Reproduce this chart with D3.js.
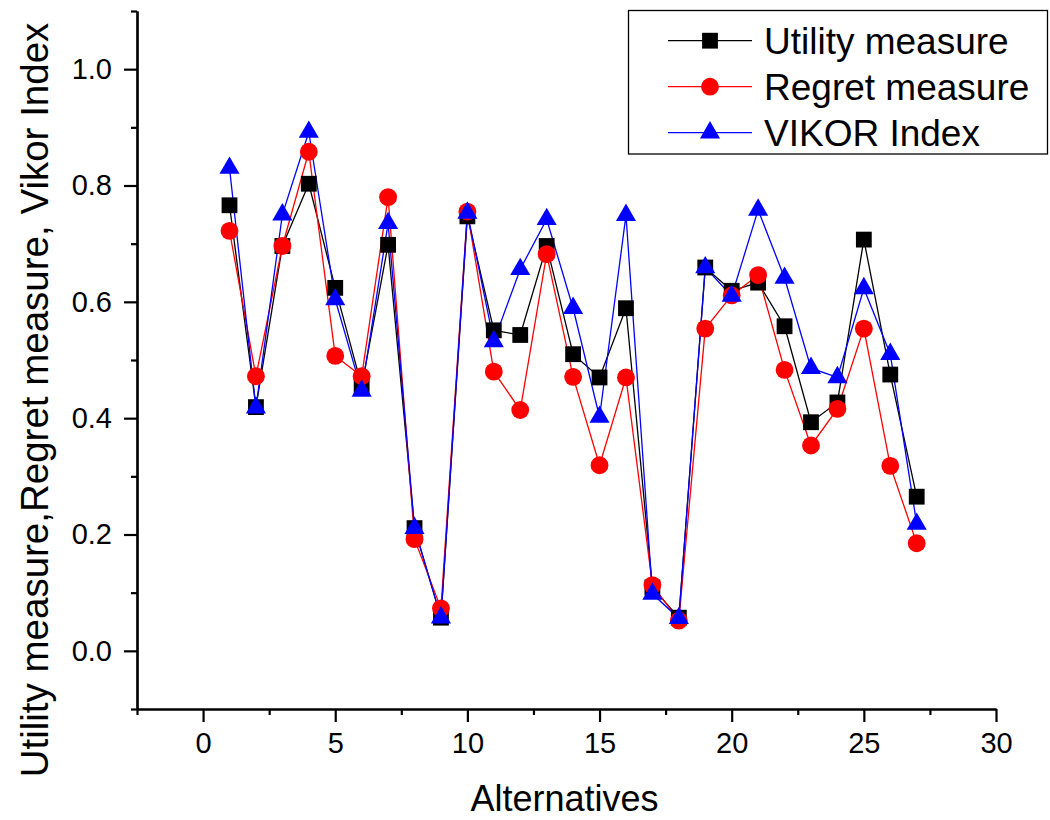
<html>
<head>
  <script src="https://d3js.org/d3.v7.min.js"></script>
  <style>
    body { margin: 0; background: #fff; }
    text { font-family: "Liberation Sans", Arial, Helvetica, sans-serif; fill: #000; }
  </style>
</head>
<body>
  <div id="chart"></div>
  <script>

    // Values
    var alternatives = [1, 2, 3, 4, 5, 6, 7, 8, 9, 10, 11, 12, 13, 14, 15, 16, 17, 18, 19, 20, 21, 22, 23, 24, 25, 26, 27];
    var utility = [0.766, 0.419, 0.696, 0.803, 0.624, 0.455, 0.698, 0.211, 0.057, 0.747, 0.551, 0.543, 0.696, 0.510,
                   0.470, 0.589, 0.109, 0.057, 0.659, 0.619, 0.633, 0.558, 0.393, 0.427, 0.707, 0.475, 0.265];
    var regret = [0.722, 0.472, 0.696, 0.858, 0.507, 0.472, 0.780, 0.192, 0.073, 0.755, 0.480, 0.414, 0.682, 0.471,
                  0.319, 0.470, 0.113, 0.052, 0.554, 0.611, 0.646, 0.483, 0.353, 0.416, 0.554, 0.318, 0.185];
    var vikor = [0.830, 0.418, 0.750, 0.892, 0.604, 0.447, 0.735, 0.211, 0.057, 0.753, 0.532, 0.656, 0.742, 0.589,
                 0.402, 0.749, 0.098, 0.056, 0.659, 0.610, 0.758, 0.641, 0.486, 0.470, 0.623, 0.510, 0.218];

    var seriesNames = ["Utility measure", "Regret measure", "VIKOR Index"];
    var xMajorTicks = [0, 5, 10, 15, 20, 25, 30];
    var xMinorTicks = [-2.5, 2.5, 7.5, 12.5, 17.5, 22.5, 27.5];
    var yMajorTicks = [0.0, 0.2, 0.4, 0.6, 0.8, 1.0];
    var yMinorTicks = [-0.1, 0.1, 0.3, 0.5, 0.7, 0.9, 1.1];

    var width = 1050, height = 820;
    var plotLeft = 137, plotRight = 996, plotTop = 11, plotBottom = 709;

    var series = [
      {name: seriesNames[0], values: utility, color: "#000000", shape: d3.symbolSquare, size: 250},
      {name: seriesNames[1], values: regret, color: "#ff0000", shape: d3.symbolCircle, size: 250},
      {name: seriesNames[2], values: vikor, color: "#0000ff", shape: d3.symbolTriangle, size: 175}
    ];

    var x = d3.scaleLinear().domain([-2.5, 30]).range([plotLeft, plotRight]);
    var y = d3.scaleLinear().domain([-0.1, 1.1]).range([plotBottom, plotTop]);

    var svg = d3.select("#chart")
      .append("svg")
        .attr("width", width)
        .attr("height", height);

    svg.append("rect").attr("width", width).attr("height", height).attr("fill", "#fff");

    // x axis, major and minor ticks
    var gx = svg.append("g").attr("transform", `translate(0,${plotBottom})`);
    gx.append("g")
      .call(d3.axisBottom(x).tickValues(xMinorTicks).tickSize(6).tickSizeOuter(0).tickFormat(""));
    gx.append("g")
      .call(d3.axisBottom(x).tickValues(xMajorTicks).tickSize(13).tickSizeOuter(0).tickPadding(10).tickFormat(d3.format("d")));

    // y axis
    var gy = svg.append("g").attr("transform", `translate(${plotLeft},0)`);
    gy.append("g")
      .call(d3.axisLeft(y).tickValues(yMinorTicks).tickSize(6).tickSizeOuter(0).tickFormat(""));
    gy.append("g")
      .call(d3.axisLeft(y).tickValues(yMajorTicks).tickSize(13).tickSizeOuter(0).tickPadding(12).tickFormat(d3.format(".1f")));

    svg.selectAll(".domain").attr("stroke", "#000").attr("stroke-width", 2.2);
    svg.selectAll(".tick line").attr("stroke", "#000").attr("stroke-width", 2.2);
    svg.selectAll(".tick text").attr("font-size", 29).attr("fill", "#000");

    // axis titles
    svg.append("text")
      .attr("x", (plotLeft + plotRight) / 2 - 2)
      .attr("y", 811)
      .attr("text-anchor", "middle")
      .attr("font-size", 36)
      .text("Alternatives");

    svg.append("text")
      .attr("transform", "translate(48,400) rotate(-90)")
      .attr("text-anchor", "middle")
      .attr("font-size", 38.5)
      .text("Utility measure,Regret measure, Vikor Index");

    // lines and markers
    var line = d3.line()
      .x((d, i) => x(alternatives[i]))
      .y(d => y(d));

    series.forEach(function(s) {
      svg.append("path")
        .datum(s.values)
        .attr("fill", "none")
        .attr("stroke", s.color)
        .attr("stroke-width", 1.3)
        .attr("d", line);
    });

    series.forEach(function(s) {
      svg.append("g")
        .selectAll("path")
        .data(s.values)
        .join("path")
          .attr("transform", (d, i) => `translate(${x(alternatives[i])},${y(d)})`)
          .attr("d", d3.symbol().type(s.shape).size(s.size))
          .attr("fill", s.color);
    });

    // legend
    var legend = svg.append("g");
    legend.append("rect")
      .attr("x", 628.5).attr("y", 10.5)
      .attr("width", 419).attr("height", 143.5)
      .attr("fill", "#fff")
      .attr("stroke", "#000")
      .attr("stroke-width", 1.3);

    var rows = legend.selectAll("g.row")
      .data(series)
      .join("g")
        .attr("class", "row")
        .attr("transform", (d, i) => `translate(0,${40.7 + i * 46})`);

    rows.append("line")
      .attr("x1", 668).attr("x2", 752)
      .attr("stroke", d => d.color)
      .attr("stroke-width", 1.3);

    rows.append("path")
      .attr("transform", "translate(710,0)")
      .attr("d", d => d3.symbol().type(d.shape).size(d.size)())
      .attr("fill", d => d.color);

    rows.append("text")
      .attr("x", 764)
      .attr("y", 13)
      .attr("font-size", 37)
      .text(d => d.name);

  </script>
</body>
</html>
